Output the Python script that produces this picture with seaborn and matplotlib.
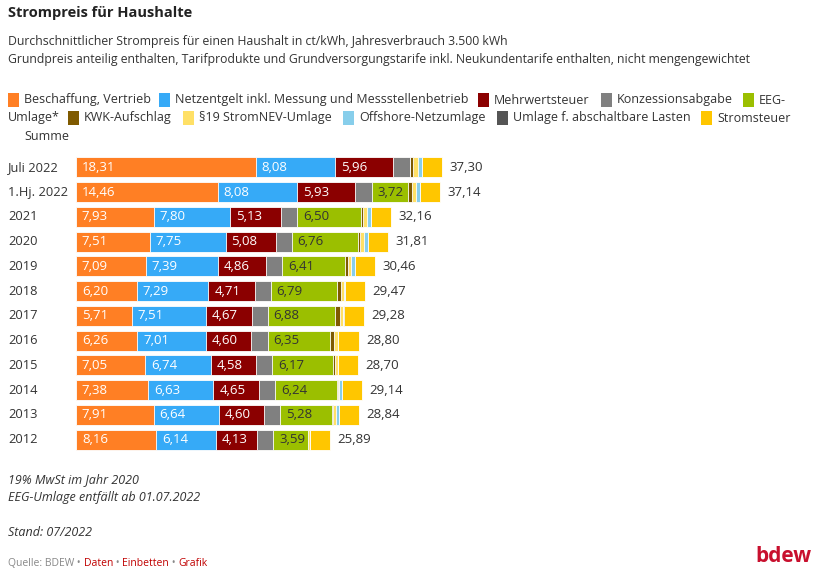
import numpy as np
import pandas as pd
import matplotlib
matplotlib.use("Agg")
import matplotlib.pyplot as plt
from matplotlib.patches import Rectangle
import seaborn as sns

categories = ["Juli 2022", "1.Hj. 2022", "2021", "2020", "2019", "2018", "2017",
              "2016", "2015", "2014", "2013", "2012"]
beschaffung = [18.31, 14.46, 7.93, 7.51, 7.09, 6.20, 5.71, 6.26, 7.05, 7.38, 7.91, 8.16]
netzentgelt = [8.08, 8.08, 7.80, 7.75, 7.39, 7.29, 7.51, 7.01, 6.74, 6.63, 6.64, 6.14]
mwst = [5.96, 5.93, 5.13, 5.08, 4.86, 4.71, 4.67, 4.60, 4.58, 4.65, 4.60, 4.13]
konzession = [1.66, 1.66, 1.66, 1.66, 1.66, 1.66, 1.66, 1.66, 1.66, 1.66, 1.66, 1.66]
eeg = [0.00, 3.72, 6.50, 6.76, 6.41, 6.79, 6.88, 6.35, 6.17, 6.24, 5.28, 3.59]
kwk = [0.38, 0.38, 0.25, 0.23, 0.28, 0.35, 0.44, 0.45, 0.25, 0.18, 0.13, 0.00]
stromnev = [0.44, 0.44, 0.43, 0.36, 0.31, 0.37, 0.39, 0.38, 0.24, 0.09, 0.33, 0.15]
offshore = [0.42, 0.42, 0.40, 0.40, 0.42, 0.04, 0.00, 0.04, 0.00, 0.25, 0.25, 0.00]
abschaltbar = [0.00, 0.00, 0.01, 0.01, 0.01, 0.01, 0.01, 0.00, 0.01, 0.01, 0.00, 0.00]
stromsteuer = [2.05, 2.05, 2.05, 2.05, 2.05, 2.05, 2.05, 2.05, 2.05, 2.05, 2.05, 2.05]
summe = [37.30, 37.14, 32.16, 31.81, 30.46, 29.47, 29.28, 28.80, 28.70, 29.14, 28.84, 25.89]

series_names = ["Beschaffung, Vertrieb", "Netzentgelt inkl. Messung und Messstellenbetrieb",
                "Mehrwertsteuer", "Konzessionsabgabe", "EEG-Umlage*", "KWK-Aufschlag",
                "§19 StromNEV-Umlage", "Offshore-Netzumlage", "Umlage f. abschaltbare Lasten",
                "Stromsteuer"]
series_values = [beschaffung, netzentgelt, mwst, konzession, eeg, kwk, stromnev,
                 offshore, abschaltbar, stromsteuer]
colors = ["#FF7F24", "#36AAF7", "#8B0000", "#808080", "#9BBF00", "#7F5A00",
          "#FFE066", "#87CEEB", "#555555", "#FFC600"]
label_colors = ["white", "white", "white", None, "#333333", None, None, None, None, None]

plt.rcParams['font.family'] = ['Open Sans', 'DejaVu Sans']
TXT = "#333333"

fig = plt.figure(figsize=(8.2, 5.76), dpi=100)
W, H = 820, 576

def fx(px):
    return px / W

def fy(py):
    return 1 - py / H

# axes: x from 76 px, 9.81 px per unit, y from 155 to 452 px
x0, ppu = 76, 9.81
xmax = 60
ax = fig.add_axes([fx(x0), fy(452), fx(ppu * xmax), (452 - 155) / H])

cum = np.zeros(len(categories))
cums = []
for vals in series_values:
    start = cum.copy()
    cum = cum + np.array(vals)
    cums.append((start, cum.copy()))

# draw cumulative bars from the total backwards so earlier segments overlay
for i in range(len(series_values) - 1, -1, -1):
    d = pd.DataFrame({"cat": categories, "v": cums[i][1]})
    sns.barplot(data=d, y="cat", x="v", orient="h", color=colors[i], ax=ax,
                width=0.8, saturation=1, edgecolor="white", linewidth=0.6,
                order=categories)

# value labels
for i, vals in enumerate(series_values):
    if label_colors[i] is None:
        continue
    for j, v in enumerate(vals):
        if v <= 0:
            continue
        ax.text(cums[i][0][j] + 0.6, j, f"{v:.2f}".replace(".", ","),
                ha="left", va="center", fontsize=9.5, color=label_colors[i])

for j, s in enumerate(summe):
    ax.text(cums[-1][1][j] + 0.75, j, f"{s:.2f}".replace(".", ","),
            ha="left", va="center", fontsize=9.5, color=TXT)

ax.set_xlim(0, xmax)
ax.set_ylim(len(categories) - 0.5, -0.5)
ax.set_xlabel("")
ax.set_ylabel("")
ax.set_xticks([])
ax.set_yticks([])
for s in ax.spines.values():
    s.set_visible(False)
ax.patch.set_alpha(0)

# category labels
for j, c in enumerate(categories):
    ax.text(-(x0 - 8) / ppu, j, c, ha="left", va="center", fontsize=9.3, color=TXT)

# title and subtitles
fig.text(fx(8), fy(13), "Strompreis für Haushalte", fontsize=10.5, fontweight="bold",
         color="#222222", ha="left", va="center")
fig.text(fx(8), fy(42), "Durchschnittlicher Strompreis für einen Haushalt in ct/kWh, Jahresverbrauch 3.500 kWh",
         fontsize=8.8, color=TXT, ha="left", va="center")
fig.text(fx(8), fy(59), "Grundpreis anteilig enthalten, Tarifprodukte und Grundversorgungstarife inkl. Neukundentarife enthalten, nicht mengengewichtet",
         fontsize=8.8, color=TXT, ha="left", va="center")

# legend (manual, flowing like the reference)
def leg_square(px, py, color):
    fig.patches.append(Rectangle((fx(px), fy(py + 7)), fx(11), 14 / H,
                                 transform=fig.transFigure, facecolor=color,
                                 edgecolor="none"))

leg_rows = [
    (100, [(8, 0), (159, 1), (478, 2), (601, 3), (743, 4)]),
    (118, [(68, 5), (183, 6), (343, 7), (497, 8), (701, 9)]),
]
for py, items in leg_rows:
    for px, k in items:
        leg_square(px, py, colors[k])
        name = series_names[k]
        if k == 4:
            name = "EEG-"
        fig.text(fx(px + 16), fy(py), name, fontsize=9, color=TXT, ha="left", va="center")
fig.text(fx(8), fy(118), "Umlage*", fontsize=9, color=TXT, ha="left", va="center")
fig.text(fx(24), fy(137), "Summe", fontsize=9, color=TXT, ha="left", va="center")

# footnotes
fig.text(fx(8), fy(480), "19% MwSt im Jahr 2020", fontsize=9, style="italic", color=TXT, va="center")
fig.text(fx(8), fy(497), "EEG-Umlage entfällt ab 01.07.2022", fontsize=9, style="italic", color=TXT, va="center")
fig.text(fx(8), fy(532), "Stand: 07/2022", fontsize=9, style="italic", color=TXT, va="center")

# source line
src_parts = [("Quelle: BDEW", "#888888"), (" • ", "#888888"), ("Daten", "#C00000"),
             (" • ", "#888888"), ("Einbetten", "#C00000"), (" • ", "#888888"), ("Grafik", "#C00000")]
fig.canvas.draw()
renderer = fig.canvas.get_renderer()
cx = 8
for t, col in src_parts:
    tt = fig.text(fx(cx), fy(563), t, fontsize=7.5, color=col, ha="left", va="center")
    bb = tt.get_window_extent(renderer=renderer)
    cx += bb.width

fig.text(fx(812), fy(556), "bdew", fontsize=15, fontweight="bold", color="#C8102E",
         ha="right", va="center")

fig.savefig("out.png", dpi=100, facecolor="white")
